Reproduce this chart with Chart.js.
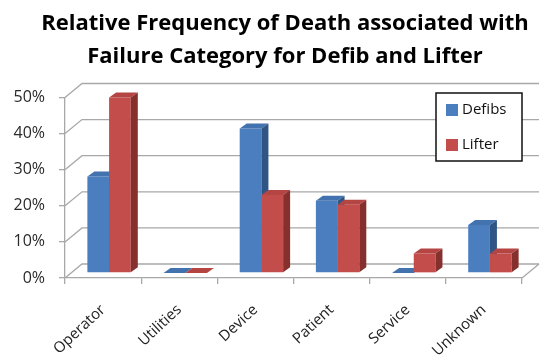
<!DOCTYPE html>
<html>
<head>
<meta charset="utf-8">
<script src="https://cdn.jsdelivr.net/npm/chart.js@4.4.1/dist/chart.umd.min.js"></script>
<style>
  html, body { margin: 0; padding: 0; background: #fff; }
  canvas { display: block; }
</style>
</head>
<body>
<canvas id="chart" width="544" height="358"></canvas>
<script>
// share of deaths (%) per failure category
const categories = ["Operator", "Utilities", "Device", "Patient", "Service", "Unknown"];
const defibs = [26.7, 0, 40.0, 20.0, 0, 13.3];
const lifter = [48.6, 0, 21.6, 18.9, 5.4, 5.4];
const yTicks = [0, 10, 20, 30, 40, 50];
const titleLines = ["Relative Frequency of Death associated with", "Failure Category for Defib and Lifter"];

const shades = {
  Defibs: { front: "#4a7ebf", top: "#4373ae", side: "#2f5584" },
  Lifter: { front: "#c24d4a", top: "#b44542", side: "#86302e" }
};

// fake 3D: back wall offset, bar offset into the box, bar depth
const WALL = { dx: 17, dy: -14 };
const BAR_SHIFT = { dx: 6, dy: -5 };
const BAR_DEPTH = { dx: 7, dy: -5 };
const GRID = "#a8a8a8";
const FONT = "Open Sans";

function quad(ctx, pts, fill) {
  ctx.beginPath();
  ctx.moveTo(pts[0][0], pts[0][1]);
  for (let k = 1; k < pts.length; k++) ctx.lineTo(pts[k][0], pts[k][1]);
  ctx.closePath();
  ctx.fillStyle = fill;
  ctx.fill();
}

const box3d = {
  id: "box3d",
  beforeDatasetsDraw(chart) {
    const ctx = chart.ctx;
    const { left, right, bottom } = chart.chartArea;
    const yScale = chart.scales.y;

    // back wall gridlines + floor
    ctx.save();
    ctx.strokeStyle = GRID;
    ctx.lineWidth = 1.3;
    yScale.ticks.forEach(t => {
      const py = yScale.getPixelForValue(t.value);
      ctx.beginPath();
      ctx.moveTo(left, py);
      ctx.lineTo(left + WALL.dx, py + WALL.dy);
      ctx.lineTo(right + WALL.dx, py + WALL.dy);
      ctx.stroke();
    });
    ctx.beginPath();
    ctx.moveTo(right, bottom);
    ctx.lineTo(right + WALL.dx, bottom + WALL.dy);
    ctx.stroke();
    ctx.restore();

    // bars, left to right so each front face hides its neighbour's side
    ctx.save();
    ctx.translate(BAR_SHIFT.dx, BAR_SHIFT.dy);
    categories.forEach((_, i) => {
      chart.data.datasets.forEach((ds, d) => {
        const el = chart.getDatasetMeta(d).data[i];
        const { x, y, base, width } = el.getProps(["x", "y", "base", "width"], true);
        const l = x - width / 2, r = x + width / 2;
        const c = shades[ds.label];
        el.draw(ctx);
        quad(ctx, [[l, y], [l + BAR_DEPTH.dx, y + BAR_DEPTH.dy], [r + BAR_DEPTH.dx, y + BAR_DEPTH.dy], [r, y]], c.top);
        if (base - y > 0.5) {
          quad(ctx, [[r, y], [r + BAR_DEPTH.dx, y + BAR_DEPTH.dy], [r + BAR_DEPTH.dx, base + BAR_DEPTH.dy], [r, base]], c.side);
        }
      });
    });
    ctx.restore();
    return false;
  },
  afterDraw(chart) {
    const ctx = chart.ctx;
    ctx.save();

    // title, centred over the whole box (plot plus its depth)
    ctx.fillStyle = "#000";
    ctx.font = "bold 22px '" + FONT + "'";
    ctx.textAlign = "center";
    ctx.textBaseline = "alphabetic";
    titleLines.forEach((line, k) => ctx.fillText(line, 285, 30 + k * 33));

    // legend box inside the plot
    const bx = 436, by = 93, bw = 86, bh = 68;
    ctx.textAlign = "left";
    ctx.fillStyle = "#fff";
    ctx.fillRect(bx, by, bw, bh);
    ctx.strokeStyle = "#111";
    ctx.lineWidth = 1.5;
    ctx.strokeRect(bx, by, bw, bh);
    ctx.font = "15px '" + FONT + "'";
    ctx.textBaseline = "middle";
    chart.data.datasets.forEach((ds, d) => {
      const cy = by + 17 + d * 35;
      ctx.fillStyle = ds.backgroundColor;
      ctx.fillRect(bx + 10, cy - 6, 12, 12);
      ctx.fillStyle = "#111";
      ctx.fillText(ds.label, bx + 26, cy);
    });
    ctx.restore();
  }
};

new Chart(document.getElementById("chart"), {
  type: "bar",
  data: {
    labels: categories,
    datasets: [
      { label: "Defibs", data: defibs, backgroundColor: shades.Defibs.front, categoryPercentage: 0.57, barPercentage: 1 },
      { label: "Lifter", data: lifter, backgroundColor: shades.Lifter.front, categoryPercentage: 0.57, barPercentage: 1 }
    ]
  },
  options: {
    responsive: false,
    devicePixelRatio: 1,
    animation: false,
    // top padding leaves room for the two-line title drawn in afterDraw
    layout: { padding: { left: 0, right: 22, top: 97.5, bottom: 0 } },
    plugins: {
      legend: { display: false },
      tooltip: { enabled: false },
      title: { display: false }
    },
    scales: {
      x: {
        afterFit(s) { s.height = 80; },
        ticks: { minRotation: 43, maxRotation: 43, color: "#222", font: { family: FONT, size: 15 }, padding: 17 },
        grid: { drawOnChartArea: false, tickLength: 6, color: GRID, lineWidth: 1.3, offset: true },
        border: { color: GRID, width: 1.3 }
      },
      y: {
        min: yTicks[0],
        max: yTicks[yTicks.length - 1],
        afterFit(s) { s.width = 65; },
        afterBuildTicks(s) { s.ticks = yTicks.map(v => ({ value: v })); },
        ticks: { callback: v => v + "%", color: "#2a2a2a", font: { family: FONT, size: 16 }, padding: 14 },
        grid: { drawOnChartArea: false, tickLength: 6, color: GRID, lineWidth: 1.3 },
        border: { color: GRID, width: 1.3 }
      }
    }
  },
  plugins: [box3d]
});
</script>
</body>
</html>
